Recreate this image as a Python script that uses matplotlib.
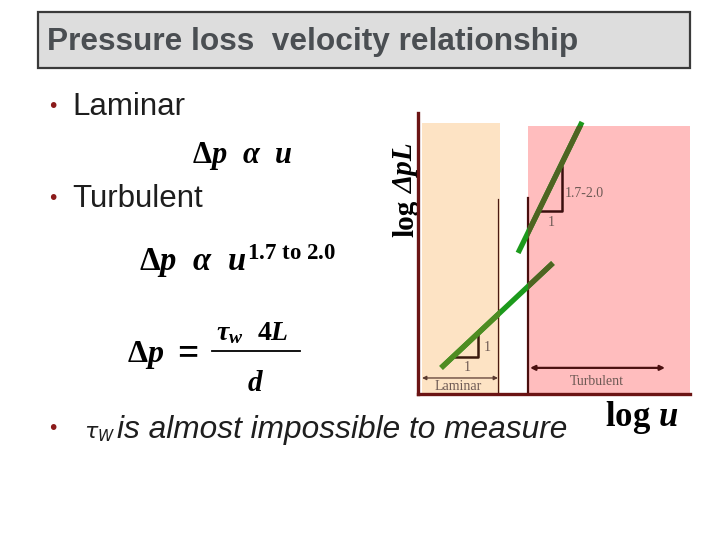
import matplotlib
matplotlib.use("Agg")
import matplotlib.pyplot as plt
from matplotlib.patches import Rectangle

plt.rcParams['mathtext.fontset'] = 'custom'
plt.rcParams['mathtext.rm'] = 'Liberation Serif:bold'
plt.rcParams['mathtext.it'] = 'Liberation Serif:italic:bold'
plt.rcParams['mathtext.bf'] = 'Liberation Serif:bold'

# ---- slide texts ----
title = "Pressure loss  velocity relationship"
bullets = ["Laminar", "Turbulent"]
last_bullet = "is almost impossible to measure"

# ---- chart data (log u, log dp) in arbitrary units ----
laminar_x = [0.85, 4.96]
laminar_y = [0.93, 4.66]
turbulent_x = [3.68, 6.03]
turbulent_y = [5.02, 9.68]
laminar_region = [0.15, 3.01, 9.64]    # x0, x1, top
turbulent_region = [4.04, 10.0, 9.54]
laminar_limit = [2.94, 6.94]           # x, top
turbulent_limit = [4.04, 6.98]
lam_tri_x = [1.36, 2.21, 2.21]
lam_tri_y = [1.32, 1.32, 2.17]
turb_tri_x = [4.41, 5.29, 5.29]
turb_tri_y = [6.51, 6.51, 8.08]
lam_arrow = [0.15, 2.94, 0.57]
turb_arrow = [4.12, 9.08, 0.93]
slope_labels = ["1", "1", "1", "1.7-2.0"]

fig = plt.figure(figsize=(7.2, 5.4), dpi=100)
bg = fig.add_axes([0, 0, 1, 1])
bg.set_xlim(0, 720)
bg.set_ylim(540, 0)
bg.axis('off')

# title box
bg.add_patch(Rectangle((38, 12), 652, 56, facecolor='#DDDDDD', edgecolor='#3a3a3a', lw=1.6))
bg.text(47, 42, title, fontsize=22.8, fontweight='bold', family='Liberation Sans',
        color='#4a4e52', va='center', ha='left')

# bullets
bcol = '#8B1A1A'
for (yb, txt) in [(107, bullets[0]), (199, bullets[1])]:
    bg.text(47, yb, '•', fontsize=14, color=bcol, va='center', ha='left', family='DejaVu Sans')
    bg.text(72, yb, txt, fontsize=22.5, color='#1e1e1e', va='center', ha='left', family='Liberation Sans')

# formulas
bg.text(192, 163, r'$\Delta p\ \ \alpha\ \ u$', fontsize=22, color='black', ha='left', va='baseline')
bg.text(139, 271, r'$\Delta p\ \ \alpha\ \ u^{\mathrm{1.7\ to\ 2.0}}$', fontsize=23.5, color='black',
        ha='left', va='baseline')
bg.text(127, 362, r'$\Delta p$', fontsize=23, color='black', ha='left', va='baseline')
bg.text(172, 362, r'$=$', fontsize=27, color='black', ha='left', va='baseline')
bg.text(216, 340, r'$\tau_w$', fontsize=20, color='black', ha='left', va='baseline')
bg.text(257, 340, r'$4L$', fontsize=20, color='black', ha='left', va='baseline')
bg.plot([212, 300], [351, 351], color='black', lw=1.3)
bg.text(255, 391, r'$d$', fontsize=21, color='black', ha='center', va='baseline')

# last bullet
bg.text(47, 429, '•', fontsize=14, color=bcol, va='center', ha='left', family='DejaVu Sans')
bg.text(84, 438, r'$\tau_W$', fontsize=16, color='#1e1e1e', va='baseline', ha='left',
        math_fontfamily='dejavusans')
bg.text(117, 430, last_bullet, fontsize=22.8, style='italic', color='#1e1e1e', va='center',
        ha='left', family='Liberation Sans')

# ---- chart ----
ax = fig.add_axes([418/720, (540-394)/540, 272/720, 281/540])
ax.set_xlim(0, 10)
ax.set_ylim(0, 10)
ax.patch.set_alpha(0)
for s in ['top', 'right']:
    ax.spines[s].set_visible(False)
for s in ['left', 'bottom']:
    ax.spines[s].set_color('#6B1414')
    ax.spines[s].set_linewidth(2.4)
ax.set_xticks([])
ax.set_yticks([])

lam_rect = Rectangle((laminar_region[0], 0), laminar_region[1]-laminar_region[0], laminar_region[2],
                     facecolor='#FDE3C4', edgecolor='none', zorder=0)
turb_rect = Rectangle((turbulent_region[0], 0), turbulent_region[1]-turbulent_region[0], turbulent_region[2],
                      facecolor='#FFBDBE', edgecolor='none', zorder=0)
ax.add_patch(lam_rect)
ax.add_patch(turb_rect)

ax.plot([laminar_limit[0]]*2, [0, laminar_limit[1]], color='#4a1a12', lw=0.9, zorder=1)
ax.plot([turbulent_limit[0]]*2, [0, turbulent_limit[1]], color='#4a0e0e', lw=1.6, zorder=1)

for xs, ys in [(laminar_x, laminar_y), (turbulent_x, turbulent_y)]:
    ax.plot(xs, ys, color='#1c9a1c', lw=3.8, solid_capstyle='butt', zorder=3)
    l1, = ax.plot(xs, ys, color='#4f8c22', lw=3.8, solid_capstyle='butt', zorder=4)
    l1.set_clip_path(lam_rect)
    l2, = ax.plot(xs, ys, color='#4e6422', lw=3.8, solid_capstyle='butt', zorder=4)
    l2.set_clip_path(turb_rect)

ax.plot(lam_tri_x, lam_tri_y, color='#3a1a0e', lw=1.8, zorder=2)
ax.plot(turb_tri_x, turb_tri_y, color='#3a0e0e', lw=1.8, zorder=2)

tcol = '#6e5a55'
lfs = 10
ax.text(1.8, 0.96, slope_labels[0], fontsize=lfs, color=tcol, family='Liberation Serif', ha='center', va='center')
ax.text(2.55, 1.67, slope_labels[1], fontsize=lfs, color=tcol, family='Liberation Serif', ha='center', va='center')
ax.text(4.88, 6.09, slope_labels[2], fontsize=lfs, color=tcol, family='Liberation Serif', ha='center', va='center')
ax.text(5.38, 7.15, slope_labels[3], fontsize=lfs, color=tcol, family='Liberation Serif', ha='left', va='center')

ax.annotate('', xy=(lam_arrow[0], lam_arrow[2]), xytext=(lam_arrow[1], lam_arrow[2]),
            arrowprops=dict(arrowstyle='<|-|>', color='#5a3a30', lw=0.9, mutation_scale=6,
                            shrinkA=0, shrinkB=0))
ax.annotate('', xy=(turb_arrow[0], turb_arrow[2]), xytext=(turb_arrow[1], turb_arrow[2]),
            arrowprops=dict(arrowstyle='<|-|>', color='#4a1010', lw=1.6, mutation_scale=7,
                            shrinkA=0, shrinkB=0))
ax.text(1.47, 0.25, 'Laminar', fontsize=lfs, color=tcol, family='Liberation Serif', ha='center', va='center')
ax.text(6.58, 0.46, 'Turbulent', fontsize=lfs, color=tcol, family='Liberation Serif', ha='center', va='center')

# axis labels
bg.text(413, 237, 'log', fontsize=21, rotation=90, rotation_mode='anchor', color='black',
        family='Liberation Serif', fontweight='bold', ha='left', va='baseline')
bg.text(413, 193, 'ΔpL', fontsize=21, rotation=90, rotation_mode='anchor', color='black',
        family='Liberation Serif', fontweight='bold', style='italic', ha='left', va='baseline')
bg.text(642, 417, r'$\mathrm{log}\ u$', fontsize=25, color='black', ha='center', va='center')

fig.savefig('out.png', dpi=100)
